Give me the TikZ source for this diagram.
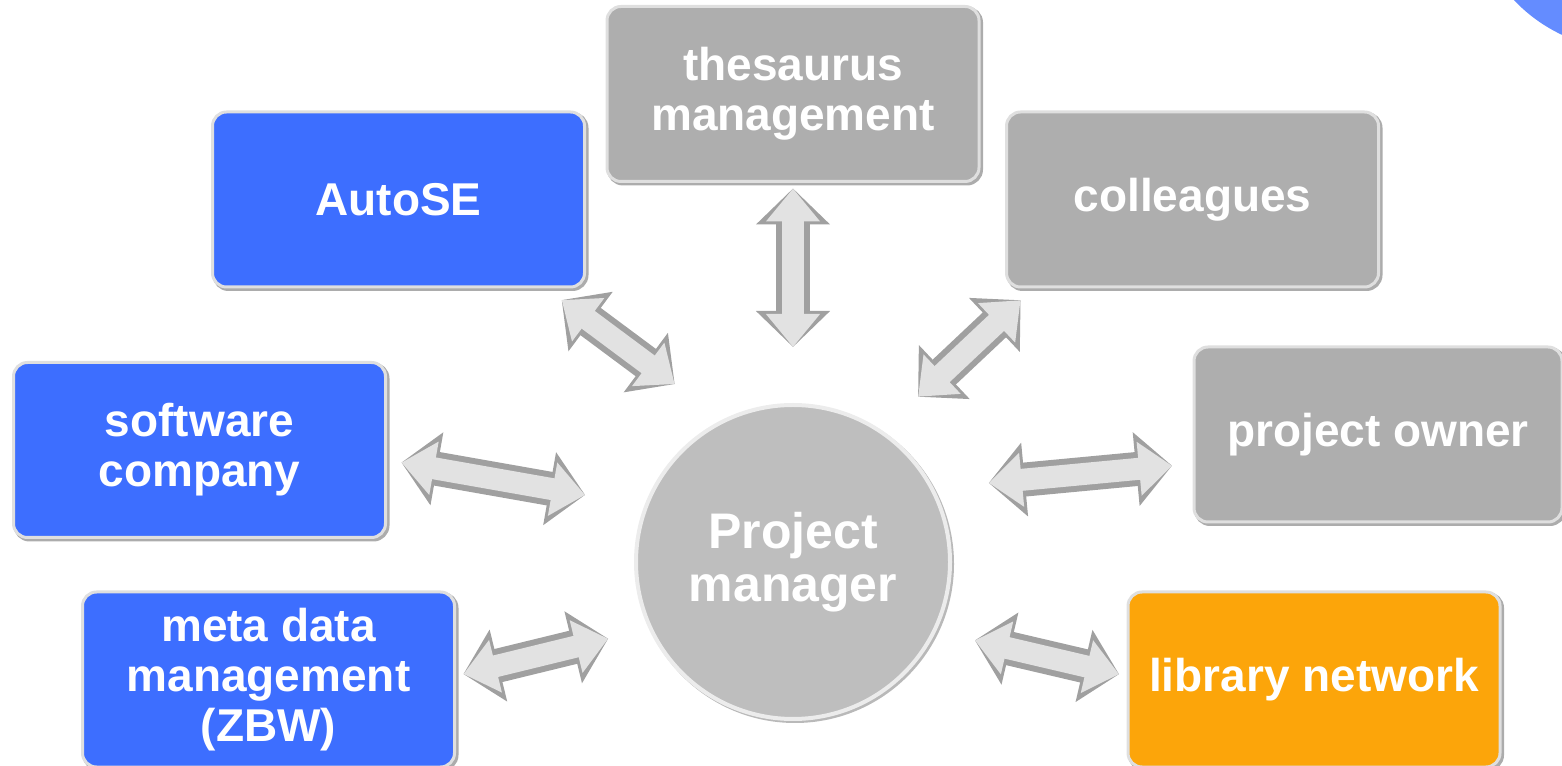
\documentclass[tikz,border=0pt]{standalone}
\usepackage{fontspec}
\setmainfont{Liberation Sans}
\usetikzlibrary{positioning, arrows.meta}

\definecolor{boxblue}{RGB}{61,110,255}
\definecolor{boxgrey}{RGB}{174,174,174}
\definecolor{boxorange}{RGB}{252,165,10}
\definecolor{pmgrey}{RGB}{190,190,190}
\definecolor{silverdark}{RGB}{160,160,160}
\definecolor{silverlight}{RGB}{226,226,226}
\definecolor{cornerblue}{RGB}{100,140,255}

\begin{document}
\begin{tikzpicture}[x=1pt, y=1pt, on grid,
   box/.style={rectangle, rounded corners=14pt, draw=gray!25, line width=3pt,
      minimum width=372pt, minimum height=175pt, inner sep=0pt, outer sep=0pt,
      align=center, text=white, font=\fontsize{46}{50}\selectfont\bfseries,
      preaction={draw=gray!65, line width=4pt,
         transform canvas={shift={(2pt,-2pt)}}}},
   bluebox/.style={box, fill=boxblue},
   greybox/.style={box, fill=boxgrey},
   orangebox/.style={box, fill=boxorange},
   manager/.style={circle, fill=pmgrey, draw=gray!15, line width=4pt,
      minimum size=314pt, inner sep=0pt, outer sep=0pt, align=center,
      text=white, font=\fontsize{50}{53}\selectfont\bfseries,
      preaction={draw=gray!55, line width=4pt,
         transform canvas={shift={(2pt,-2pt)}}}},
   biarrow/.style={draw=silverdark, line width=34pt,
      {Triangle[width=72pt,length=36pt]}-{Triangle[width=72pt,length=36pt]},
      postaction={draw=silverlight, line width=22pt,
         {Triangle[width=52pt,length=33pt]}-{Triangle[width=52pt,length=33pt]}}}]
   \useasboundingbox (0,0) rectangle (1562,765);

   % Ecke oben rechts
   \begin{scope}
      \clip (0,0) rectangle (1562,765);
      \fill[cornerblue] (1630,875) circle (160);
   \end{scope}

   % Knoten
   \node[manager] (pm) at (793,203) {Project\\manager};
   \node[greybox] (thes) [above=468pt of pm] {thesaurus\\management};
   \node[bluebox] (autose) [above left=362.5pt and 394.5pt of pm] {AutoSE};
   \node[greybox] (coll) [above right=362.5pt and 399.5pt of pm] {colleagues};
   \node[bluebox] (soft) [above left=112pt and 593.5pt of pm] {software\\company};
   \node[greybox, minimum width=368pt] (owner) [above right=127.5pt and 585pt of pm] {project owner};
   \node[bluebox] (meta) [below left=117.5pt and 524.5pt of pm] {meta data\\management\\(ZBW)};
   \node[orangebox] (lib) [below right=117.5pt and 521pt of pm] {library network};

   % Pfeile
   \draw[biarrow, shorten <=58pt, shorten >=7pt] (pm.north) -- (thes.south);
   \draw[biarrow, shorten <=61.7pt, shorten >=21.9pt] (pm.116.6) -- (autose.-31.7);
   \draw[biarrow, shorten <=51.2pt, shorten >=19.3pt] (pm.56.3) -- (coll.209.7);
   \draw[biarrow, shorten <=62.3pt, shorten >=16.2pt] (pm.159) -- (soft.-3.1);
   \draw[biarrow, shorten <=57.4pt, shorten >=22.1pt] (pm.28.7) -- (owner.189.5);
   \draw[biarrow, shorten <=43.8pt, shorten >=9.2pt] (pm.205.9) -- (meta.1.7);
   \draw[biarrow, shorten <=41.9pt, shorten >=9.2pt] (pm.-26.8) -- (lib.179.2);
\end{tikzpicture}
\end{document}
